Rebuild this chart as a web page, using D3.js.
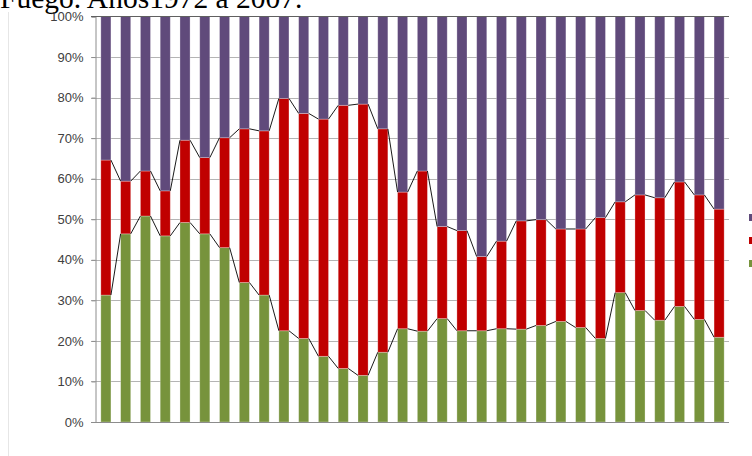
<!DOCTYPE html>
<html>
<head>
<meta charset="utf-8">
<script src="https://cdn.jsdelivr.net/npm/d3@7"></script>
<style>
  body { margin: 0; background: #fff; overflow: hidden; }
  svg { display: block; }
</style>
</head>
<body>
<div id="chart"></div>
<script>
var w = 752, h = 456

// 32 bars (years read as a sequence, axis labels are not shown in the picture)
var years = d3.range(1976, 2008).map(String)

// shares in %
var green  = [31.3,46.4,50.8,45.9,49.2,46.4,43.0,34.4,31.3,22.5,20.6,16.2,13.2,11.5,17.2,23.0,
              22.4,25.5,22.5,22.5,23.0,22.9,23.8,24.8,23.3,20.6,31.9,27.5,25.1,28.5,25.3,20.9]
var redTop = [64.6,59.4,61.9,57.0,69.5,65.2,70.1,72.3,71.8,79.8,76.1,74.7,78.1,78.4,72.3,56.7,
              61.9,48.2,47.2,40.8,44.6,49.6,49.9,47.6,47.6,50.4,54.3,56.0,55.3,59.2,56.0,52.5]
var red    = redTop.map(function(d, i){ return +(d - green[i]).toFixed(1) })
var purple = redTop.map(function(d){ return +(100 - d).toFixed(1) })

var seriesNames = ['Serie 1', 'Serie 2', 'Serie 3']
var colors = ['#77933c', '#c00000', '#604a7b']
var yTicks = d3.range(0, 101, 10)

var rows = years.map(function(y, i){
  return {year: y, s0: green[i], s1: red[i], s2: purple[i]}
})

var svg = d3.select('#chart').append('svg')
    .attr('width', w).attr('height', h)

// chart area border
svg.append('line').attr('x1', 8.5).attr('x2', 8.5).attr('y1', 12).attr('y2', h)
    .attr('stroke', '#e6e6e6')

svg.append('text')
    .attr('x', 0).attr('y', 8)
    .style('font', '29.5px "Liberation Serif", serif')
    .attr('fill', '#000')
    .text('Fuego. Años1972 a 2007.')

var x = d3.scaleBand().domain(years).range([96, 729]).paddingInner(0.49).paddingOuter(0.245)
var y = d3.scaleLinear().domain([0, 100]).range([422, 16.5])

// gridlines
svg.append('g').selectAll('line').data(yTicks.slice(1, -1)).enter().append('line')
    .attr('x1', 91).attr('x2', 729)
    .attr('y1', function(d){ return Math.round(y(d)) + 0.5 })
    .attr('y2', function(d){ return Math.round(y(d)) + 0.5 })
    .attr('stroke', '#b4b4b4')

var yAxis = svg.append('g')
    .attr('transform', 'translate(95.5,0)')
    .call(d3.axisLeft(y).tickValues(yTicks).tickSize(4).tickPadding(8)
      .tickFormat(function(d){ return d + '%' }))
yAxis.select('.domain').attr('stroke', '#8c8c8c')
yAxis.selectAll('.tick line').attr('stroke', '#8c8c8c')
yAxis.selectAll('.tick text')
    .style('font', '13px "Liberation Sans", Arial, sans-serif')
    .attr('fill', '#404040')

var stack = d3.stack().keys(['s0', 's1', 's2'])
var layers = stack(rows)

svg.append('g').selectAll('g').data(layers).enter().append('g')
    .attr('fill', function(d, i){ return colors[i] })
  .selectAll('rect').data(function(d){ return d }).enter().append('rect')
    .attr('x', function(d){ return x(d.data.year) })
    .attr('width', x.bandwidth())
    .attr('y', function(d){ return y(d[1]) })
    .attr('height', function(d){ return y(d[0]) - y(d[1]) })
    .attr('stroke', 'rgba(255,255,255,0.35)')
    .attr('stroke-width', 0.8)

// series lines between bar tops
var seriesLine = []
layers.slice(0, 2).forEach(function(layer){
  layer.forEach(function(d, i){
    if (i == layer.length - 1) return
    var n = layer[i + 1]
    seriesLine.push([[x(d.data.year) + x.bandwidth(), y(d[1])], [x(n.data.year), y(n[1])]])
  })
})
svg.append('g').selectAll('path').data(seriesLine).enter().append('path')
    .attr('d', function(d){ return 'M' + d.join('L') })
    .attr('stroke', '#000').attr('stroke-width', 0.9).attr('fill', 'none')

// axes lines on top
svg.append('line').attr('x1', 91).attr('x2', 729).attr('y1', 422.5).attr('y2', 422.5)
    .attr('stroke', '#8c8c8c')
svg.append('line').attr('x1', 91).attr('x2', 729).attr('y1', 16.5).attr('y2', 16.5)
    .attr('stroke', '#606060')

// legend (mostly outside the window)
var legend = svg.append('g').selectAll('g').data([2, 1, 0]).enter().append('g')
    .attr('transform', function(d, i){ return 'translate(749,' + (214 + i * 23) + ')' })
legend.append('rect').attr('width', 7).attr('height', 7)
    .attr('fill', function(d){ return colors[d] })
legend.append('text').attr('x', 11).attr('y', 7)
    .style('font', '13px "Liberation Sans", Arial, sans-serif')
    .text(function(d){ return seriesNames[d] })
</script>
</body>
</html>
